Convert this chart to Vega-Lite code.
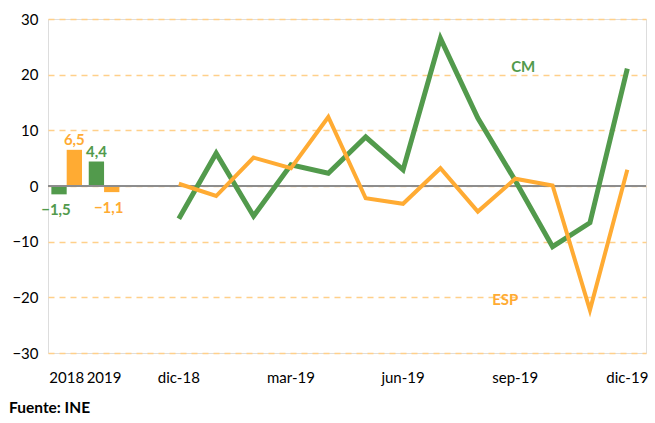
{
  "$schema": "https://vega.github.io/schema/vega-lite/v6.json",
  "autosize": {"type": "none"},
  "padding": {"left": 48, "top": 19, "right": 9, "bottom": 70},
  "width": 598,
  "height": 334,
  "background": "white",
  "title": {
    "text": "Fuente: INE",
    "orient": "bottom",
    "anchor": "start",
    "frame": "group",
    "dx": -39,
    "offset": 16,
    "font": "Lato",
    "fontSize": 15.5,
    "fontWeight": "bold",
    "color": "#000000"
  },
  "datasets": {
    "anual": [
      {"mes": "2018", "serie": "CM", "valor": -1.5},
      {"mes": "2018", "serie": "ESP", "valor": 6.5},
      {"mes": "2019", "serie": "CM", "valor": 4.4},
      {"mes": "2019", "serie": "ESP", "valor": -1.1}
    ],
    "mensual": [
      {"mes": "dic-18", "serie": "CM", "valor": -5.9},
      {"mes": "ene-19", "serie": "CM", "valor": 5.9},
      {"mes": "feb-19", "serie": "CM", "valor": -5.4},
      {"mes": "mar-19", "serie": "CM", "valor": 3.8},
      {"mes": "abr-19", "serie": "CM", "valor": 2.3},
      {"mes": "may-19", "serie": "CM", "valor": 8.8},
      {"mes": "jun-19", "serie": "CM", "valor": 2.9},
      {"mes": "jul-19", "serie": "CM", "valor": 26.5},
      {"mes": "ago-19", "serie": "CM", "valor": 12.2},
      {"mes": "sep-19", "serie": "CM", "valor": 1.0},
      {"mes": "oct-19", "serie": "CM", "valor": -10.9},
      {"mes": "nov-19", "serie": "CM", "valor": -6.6},
      {"mes": "dic-19", "serie": "CM", "valor": 21.1},
      {"mes": "dic-18", "serie": "ESP", "valor": 0.4},
      {"mes": "ene-19", "serie": "ESP", "valor": -1.8},
      {"mes": "feb-19", "serie": "ESP", "valor": 5.1},
      {"mes": "mar-19", "serie": "ESP", "valor": 3.2},
      {"mes": "abr-19", "serie": "ESP", "valor": 12.4},
      {"mes": "may-19", "serie": "ESP", "valor": -2.2},
      {"mes": "jun-19", "serie": "ESP", "valor": -3.2},
      {"mes": "jul-19", "serie": "ESP", "valor": 3.2},
      {"mes": "ago-19", "serie": "ESP", "valor": -4.6},
      {"mes": "sep-19", "serie": "ESP", "valor": 1.3},
      {"mes": "oct-19", "serie": "ESP", "valor": 0.1},
      {"mes": "nov-19", "serie": "ESP", "valor": -22.3},
      {"mes": "dic-19", "serie": "ESP", "valor": 2.9}
    ],
    "etiquetas": [
      {"mes": "sep-19", "serie": "CM", "valor": 21.4, "texto": "CM"},
      {"mes": "sep-19", "serie": "ESP", "valor": -20.5, "texto": "ESP"}
    ]
  },
  "encoding": {
    "x": {
      "field": "mes",
      "type": "nominal",
      "scale": {
        "domain": ["2018", "2019", " ", "dic-18", "ene-19", "feb-19", "mar-19", "abr-19", "may-19", "jun-19", "jul-19", "ago-19", "sep-19", "oct-19", "nov-19", "dic-19"],
        "paddingInner": 0.18,
        "paddingOuter": 0.09
      },
      "axis": {
        "title": null,
        "domain": false,
        "ticks": false,
        "labelAngle": 0,
        "labelOverlap": false,
        "labelPadding": 17,
        "labelFont": "Lato",
        "labelFontSize": 15,
        "labelColor": "#000000",
        "labelExpr": "indexof(['2018','2019','dic-18','mar-19','jun-19','sep-19','dic-19'], datum.value) >= 0 ? datum.value : ''"
      }
    },
    "y": {
      "field": "valor",
      "type": "quantitative",
      "scale": {"domain": [-30, 30], "nice": false, "zero": false},
      "axis": {
        "title": null,
        "domain": false,
        "ticks": false,
        "values": [-30, -20, -10, 0, 10, 20, 30],
        "labelPadding": 10,
        "labelFont": "Lato",
        "labelFontSize": 15,
        "labelColor": "#000000",
        "grid": true,
        "gridColor": "#FFD08A",
        "gridDash": [6, 5],
        "gridWidth": 1.3
      }
    },
    "color": {
      "field": "serie",
      "type": "nominal",
      "scale": {"domain": ["CM", "ESP"], "range": ["#529A4C", "#FFAB33"]},
      "legend": null
    }
  },
  "layer": [
    {
      "data": {"name": "anual"},
      "mark": {"type": "bar"},
      "encoding": {
        "xOffset": {"field": "serie", "type": "nominal", "sort": ["CM", "ESP"]}
      }
    },
    {
      "data": {"name": "anual"},
      "mark": {"type": "rule", "color": "#8C8C8C", "strokeWidth": 1.5},
      "encoding": {
        "x": null,
        "color": null,
        "y": {"datum": 0}
      }
    },
    {
      "data": {"name": "anual"},
      "transform": [
        {"filter": "datum.valor >= 0"},
        {"calculate": "replace(format(datum.valor, '.1f'), '.', ',')", "as": "lab"}
      ],
      "mark": {"type": "text", "baseline": "bottom", "dy": -2, "font": "Lato", "fontSize": 15, "fontWeight": "bold"},
      "encoding": {
        "xOffset": {"field": "serie", "type": "nominal", "sort": ["CM", "ESP"]},
        "text": {"field": "lab"}
      }
    },
    {
      "data": {"name": "anual"},
      "transform": [
        {"filter": "datum.valor < 0"},
        {"calculate": "replace(format(datum.valor, '.1f'), '.', ',')", "as": "lab"}
      ],
      "mark": {"type": "text", "baseline": "top", "dy": 9, "dx": -3, "font": "Lato", "fontSize": 15, "fontWeight": "bold"},
      "encoding": {
        "xOffset": {"field": "serie", "type": "nominal", "sort": ["CM", "ESP"]},
        "text": {"field": "lab"}
      }
    },
    {
      "data": {"name": "mensual"},
      "transform": [{"filter": "datum.serie === 'CM'"}],
      "mark": {"type": "line", "strokeWidth": 5, "strokeJoin": "miter"},
      "encoding": {"order": {"value": null}}
    },
    {
      "data": {"name": "mensual"},
      "transform": [{"filter": "datum.serie === 'ESP'"}],
      "mark": {"type": "line", "strokeWidth": 4, "strokeJoin": "miter"},
      "encoding": {"order": {"value": null}}
    },
    {
      "data": {"name": "etiquetas"},
      "transform": [{"filter": "datum.serie === 'CM'"}],
      "mark": {"type": "text", "font": "Lato", "fontSize": 15, "fontWeight": "bold", "dx": 8},
      "encoding": {"text": {"field": "texto"}}
    },
    {
      "data": {"name": "etiquetas"},
      "transform": [{"filter": "datum.serie === 'ESP'"}],
      "mark": {"type": "text", "font": "Lato", "fontSize": 15, "fontWeight": "bold", "dx": -10},
      "encoding": {"text": {"field": "texto"}}
    }
  ]
}
